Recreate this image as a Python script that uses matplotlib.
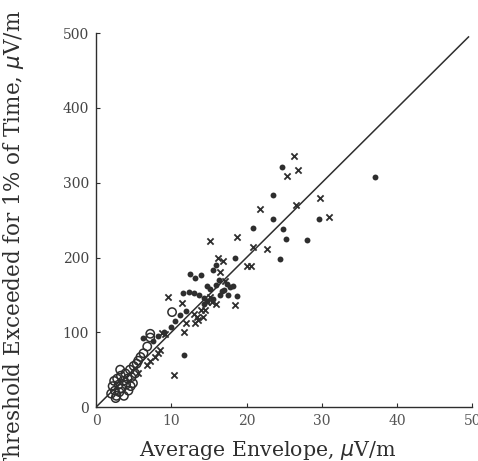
import matplotlib
matplotlib.use("Agg")
import matplotlib.pyplot as plt

# open circles
circ_x = [2.0, 2.2, 2.4, 2.5, 2.7, 2.8, 3.0, 3.1, 3.3, 3.4, 3.6, 3.7, 3.9, 4.0, 4.2, 4.3,
          4.5, 4.7, 4.9, 5.0, 5.2, 5.4, 5.6, 5.9, 6.3, 6.8, 7.2, 7.2, 10.1, 2.6, 3.2, 4.6]
circ_y = [18, 28, 35, 22, 15, 38, 30, 20, 42, 25, 35, 15, 45, 30, 38, 22,
          50, 40, 32, 55, 45, 58, 62, 67, 72, 81, 93, 98, 127, 12, 50, 28]

# filled dots
dot_x = [37.1, 24.7, 23.5, 23.5, 24.8, 25.2, 20.8, 29.6, 28.0, 24.4, 18.4, 18.7, 11.7,
         12.5, 13.2, 13.9, 11.6, 12.3, 13.0, 13.7, 14.3, 14.8, 14.8, 15.6, 15.9, 11.2,
         10.5, 9.9, 6.3, 15.2, 16.0, 16.5, 17.0, 17.4, 17.8, 16.3, 16.8, 17.5, 18.2,
         15.5, 14.4, 12.0, 9.0, 8.2, 7.5]
dot_y = [308, 321, 283, 251, 238, 225, 239, 251, 224, 198, 200, 148, 70,
         178, 172, 177, 152, 154, 152, 150, 146, 142, 162, 183, 190, 123,
         115, 107, 93, 158, 163, 150, 156, 165, 160, 170, 155, 150, 162,
         145, 138, 128, 100, 95, 88]

# crosses
crs_x = [26.3, 26.8, 25.4, 29.7, 31.0, 26.6, 21.8, 15.1, 18.7, 22.7, 20.8, 20.1, 20.6,
         18.4, 9.5, 16.2, 16.9, 10.4, 11.7, 11.4, 13.0, 13.4, 13.1, 13.6, 14.5, 14.7,
         15.2, 15.4, 14.2, 9.2, 8.8, 8.2, 8.5, 7.8, 6.8, 5.6, 7.2, 12.0, 16.0, 17.2,
         14.0, 16.5]
crs_y = [336, 317, 309, 280, 254, 270, 265, 222, 228, 211, 214, 188, 188,
         137, 147, 199, 196, 43, 100, 139, 125, 121, 112, 117, 130, 141,
         147, 140, 120, 98, 99, 72, 76, 67, 56, 45, 62, 112, 138, 168,
         130, 180]

# fitted line  y = 10 x
fit_x = [0, 49.5]
fit_slope = 10

ink = "#2e2e2e"
plt.rcParams['font.family'] = ['DejaVu Serif']

fig = plt.figure(figsize=(4.78, 4.61), dpi=100)
ax = fig.add_axes([0.201, 0.117, 0.787, 0.811])

ax.plot(fit_x, [v * fit_slope for v in fit_x], color=ink, lw=1.1)
ax.scatter(circ_x, circ_y, s=36, facecolors='none', edgecolors=ink, linewidths=1.1)
ax.scatter(dot_x, dot_y, s=18, color=ink, linewidths=0)
ax.scatter(crs_x, crs_y, s=20, marker='x', color=ink, linewidths=1.3)

ax.set_xlim(0, 50)
ax.set_ylim(0, 500)
ax.set_xticks([0, 10, 20, 30, 40, 50])
ax.set_yticks([0, 100, 200, 300, 400, 500])
ax.spines['top'].set_visible(False)
ax.spines['right'].set_visible(False)
for s in ['left', 'bottom']:
    ax.spines[s].set_color(ink)
    ax.spines[s].set_linewidth(1.0)
ax.tick_params(direction='in', length=3, colors=ink, labelsize=10, pad=5)
ax.tick_params(axis='x', labelcolor='#555555')
ax.tick_params(axis='y', labelcolor='#444444')

ax.set_xlabel("Average Envelope, $\\mu$V/m", fontsize=14.8, color=ink)
ax.xaxis.set_label_coords(0.457, -0.085)
fig.text(0.028, 1 - 10 / 461, "Threshold Exceeded for 1% of Time, $\\mu$V/m",
         rotation=90, ha='center', va='top', fontsize=15.5, color=ink)

fig.savefig("out.png", dpi=100)
